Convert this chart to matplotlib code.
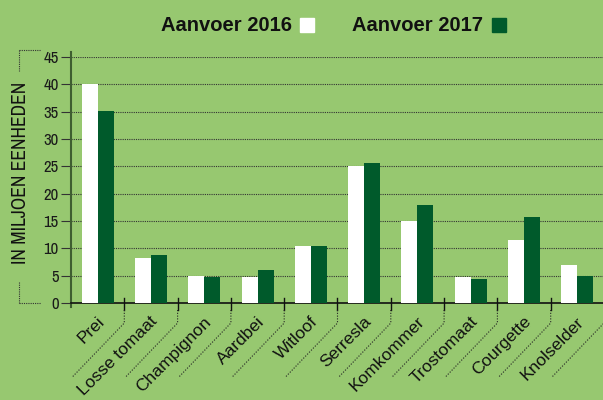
import matplotlib
matplotlib.use("Agg")
import matplotlib.pyplot as plt
import matplotlib.transforms as mtransforms
import numpy as np

categories = ["Prei", "Losse tomaat", "Champignon", "Aardbei", "Witloof",
              "Serresla", "Komkommer", "Trostomaat", "Courgette", "Knolselder"]
aanvoer_2016 = [40.1, 8.2, 4.9, 4.8, 10.4, 25.0, 15.0, 4.7, 11.6, 6.9]
aanvoer_2017 = [35.1, 8.8, 4.8, 6.0, 10.4, 25.7, 18.0, 4.3, 15.8, 5.0]
yticks = [0, 5, 10, 15, 20, 25, 30, 35, 40, 45]
legend_labels = ["Aanvoer 2016", "Aanvoer 2017"]
ylabel = "IN MILJOEN EENHEDEN"

BG = "#97c870"
DARK = "#005a2b"
NARROW = ["Archivo Narrow", "Liberation Sans", "DejaVu Sans"]
REG = ["Liberation Sans", "DejaVu Sans"]
plt.rcParams["font.family"] = REG

fig = plt.figure(figsize=(6.03, 4.0), dpi=100, facecolor=BG)
ax = fig.add_axes([71 / 603, 97 / 400, 533 / 603, 246 / 400])
ax.set_facecolor(BG)

x = np.arange(len(categories))
w = 0.3
ax.bar(x - w / 2, aanvoer_2016, w, color="white", zorder=3)
ax.bar(x + w / 2, aanvoer_2017, w, color=DARK, zorder=3)

ax.set_xlim(-0.5, len(categories) - 0.5)
ax.set_ylim(0, 45)
ax.set_yticks(yticks)
ax.set_yticklabels([str(v) for v in yticks], fontsize=12, color="#1a1a1a",
                   family=NARROW)
ax.tick_params(axis="y", length=7, width=0.8, color="#333333", pad=2)
ax.yaxis.grid(True, linestyle=(0, (1, 1)), color="#333333", linewidth=0.8, zorder=1)
ax.set_axisbelow(True)
for t in ax.yaxis.get_ticklines():
    t.set_linestyle((0, (1, 1)))
ax.set_xticks([])

for s in ["top", "right"]:
    ax.spines[s].set_visible(False)
ax.spines["left"].set_color("#3e5e30")
ax.spines["left"].set_linewidth(1.5)
ax.spines["left"].set_bounds(-0.7, 46)
ax.spines["bottom"].set_color("#111111")
ax.spines["bottom"].set_linewidth(1.2)

# boundary ticks with dotted diagonals
for b in range(1, len(categories) + 1):
    xb = b - 0.5
    base = mtransforms.ScaledTranslation(xb, 0, ax.transData)
    tr = mtransforms.Affine2D() + base
    ax.plot([0, 0], [5, -7], color="#111111", lw=1.0, transform=tr,
            clip_on=False, zorder=4)
    ax.plot([0, 0, -52], [-7, -20, -74], color="#222222", lw=0.8,
            linestyle=(0, (1, 1.5)), transform=tr, clip_on=False, zorder=4)

# category labels
for i, c in enumerate(categories):
    base = mtransforms.ScaledTranslation(i, 0, ax.transData)
    tr = mtransforms.Affine2D().translate(-1, -11) + base
    ax.text(0, 0, c, transform=tr, rotation=45, rotation_mode="anchor",
            ha="right", va="top", fontsize=12.5, color="#111111")

# y label
fig.text(21 / 603, 1 - 173 / 400, ylabel, rotation=90, ha="center", va="center",
         fontsize=14, color="#111111", family=NARROW)
# decorative brackets
dot = dict(color="#333333", lw=0.8, linestyle=(0, (1, 1)))
fig.add_artist(plt.Line2D([19 / 603, 41 / 603], [1 - 50 / 400, 1 - 50 / 400], **dot))
fig.add_artist(plt.Line2D([19 / 603, 19 / 603], [1 - 50 / 400, 1 - 71 / 400], **dot))
fig.add_artist(plt.Line2D([19 / 603, 41 / 603], [1 - 303 / 400, 1 - 303 / 400], **dot))
fig.add_artist(plt.Line2D([19 / 603, 19 / 603], [1 - 282 / 400, 1 - 303 / 400], **dot))

# legend
fig.text(292 / 603, 1 - 25.5 / 400, legend_labels[0], ha="right", va="center",
         fontsize=14.5, fontweight="bold", color="#111111")
fig.patches.append(plt.Rectangle((300 / 603, 1 - 32 / 400), 14 / 603, 14 / 400,
                                 transform=fig.transFigure, color="white"))
fig.text(483 / 603, 1 - 25.5 / 400, legend_labels[1], ha="right", va="center",
         fontsize=14.5, fontweight="bold", color="#111111")
fig.patches.append(plt.Rectangle((492 / 603, 1 - 32 / 400), 14 / 603, 14 / 400,
                                 transform=fig.transFigure, color=DARK))

fig.savefig("out.png", dpi=100, facecolor=BG)
